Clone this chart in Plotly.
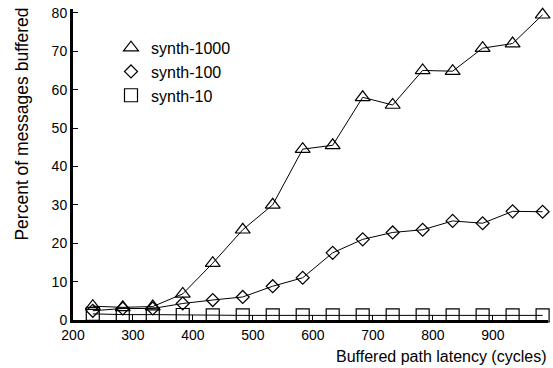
import plotly.graph_objects as go

latency = [233, 283, 333, 383, 433, 483, 533, 583, 633, 683, 733, 783, 833, 883, 933, 983]
synth_1000 = [3.6, 3.3, 3.5, 6.8, 14.8, 23.5, 30.0, 44.5, 45.5, 58.0, 56.0, 65.0, 64.8, 70.8, 72.0, 79.5]
synth_100 = [2.4, 3.0, 3.0, 4.3, 5.2, 6.0, 8.8, 11.0, 17.5, 21.0, 22.8, 23.5, 25.8, 25.2, 28.3, 28.2]
synth_10 = [1.6, 1.4, 1.4, 1.3, 1.2, 1.2, 1.2, 1.2, 1.2, 1.2, 1.2, 1.2, 1.2, 1.2, 1.2, 1.2]
series_names = ["synth-1000", "synth-100", "synth-10"]
x_ticks = [200, 300, 400, 500, 600, 700, 800, 900]
y_ticks = [0, 10, 20, 30, 40, 50, 60, 70, 80]

FONT = "Liberation Sans, Arial, sans-serif"
symbols = ["triangle-up-open", "diamond-open", "square-open"]
sizes = [13, 10, 13]

fig = go.Figure()
for name, ys, sym, sz in zip(series_names, [synth_1000, synth_100, synth_10], symbols, sizes):
    fig.add_trace(go.Scatter(
        x=latency, y=ys, mode="lines+markers", name=name, showlegend=False,
        line=dict(color="black", width=1),
        marker=dict(symbol=sym, size=sz, color="black", line=dict(width=1.2, color="black")),
        cliponaxis=False,
    ))
for name, sym, sz in zip(series_names, symbols, sizes):
    fig.add_trace(go.Scatter(
        x=[None], y=[None], mode="markers", name=name,
        marker=dict(symbol=sym, size=sz, color="black", line=dict(width=1.2, color="black")),
    ))

fig.update_layout(
    width=553, height=368,
    margin=dict(l=73, r=5, t=6, b=48),
    paper_bgcolor="white", plot_bgcolor="white",
    font=dict(family=FONT, size=14, color="black"),
    showlegend=True,
    legend=dict(x=0.08, y=0.93, xanchor="left", yanchor="top",
                bgcolor="rgba(0,0,0,0)", font=dict(size=16, family=FONT),
                itemsizing="trace", tracegroupgap=0),
    xaxis=dict(range=[200, 992], tickvals=x_ticks, ticktext=[str(v) for v in x_ticks],
               showgrid=False, zeroline=False, showline=True, linecolor="black", linewidth=3,
               ticks="inside", ticklen=5, tickcolor="black", tickwidth=1,
               tickfont=dict(size=14, family=FONT)),
    yaxis=dict(range=[0, 81], tickvals=y_ticks, ticktext=[str(v) for v in y_ticks],
               showgrid=False, zeroline=False, showline=True, linecolor="black", linewidth=3,
               ticks="inside", ticklen=5, tickcolor="black", tickwidth=1,
               tickfont=dict(size=14, family=FONT)),
    annotations=[
        dict(text="Buffered path latency (cycles)", xref="paper", yref="paper",
             x=1.0, y=-0.085, xanchor="right", yanchor="top", showarrow=False,
             font=dict(size=16, family=FONT)),
        dict(text="Percent of messages buffered", xref="paper", yref="paper",
             x=-0.107, y=1.01, xanchor="center", yanchor="top", textangle=-90, showarrow=False,
             font=dict(size=17.5, family=FONT)),
    ],
)

fig.write_html("out.html")
